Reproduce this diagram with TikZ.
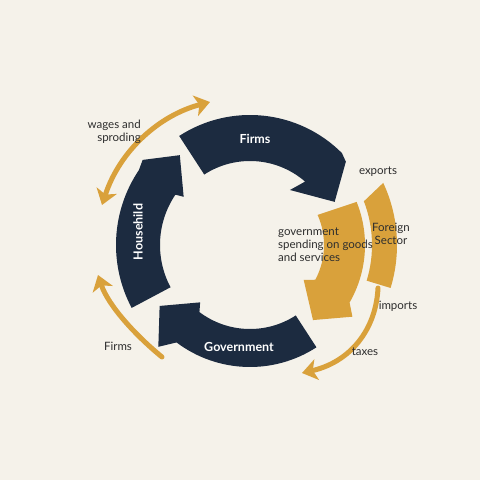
\documentclass[tikz,border=0pt]{standalone}
\usepackage{fontspec}
\setmainfont{Lato}
\usetikzlibrary{arrows.meta}
\definecolor{bg}{HTML}{F5F2EA}
\definecolor{navy}{HTML}{1C2B40}
\definecolor{gold}{HTML}{D9A13B}
\definecolor{ink}{HTML}{2E2E2E}
\begin{document}
\begin{tikzpicture}[x=1pt,y=1pt,
  lbl/.style={text=ink,font=\fontsize{11.5}{13}\selectfont,inner sep=0pt},
  wlbl/.style={text=white,font=\bfseries\fontsize{12.5}{14}\selectfont,inner sep=0pt},
  goldarrow/.style={draw=gold,line width=5pt,-{Stealth[length=15pt,width=21pt,inset=4pt]}},
  goldboth/.style={draw=gold,line width=5pt,{Stealth[length=15pt,width=21pt,inset=4pt]}-{Stealth[length=15pt,width=21pt,inset=4pt]}},
  band/.style={fill=navy},
  gband/.style={fill=gold}]
\fill[bg] (0,0) rectangle (480,480);
\useasboundingbox (0,0) rectangle (480,480);
\begin{scope}[shift={(250,235)}]
  % Household
  \fill[band] (208:134) arc[start angle=208,end angle=146,radius=134] -- (141.6:137) -- (128:114) -- (144:82) -- (146:90) arc[start angle=146,end angle=208,radius=90] -- cycle;
  % Firms
  \fill[band] (123:130) arc[start angle=123,end angle=45,radius=130] -- (41:127) -- (27:95) -- (54:68) -- (49:84) arc[start angle=49,end angle=123,radius=84] -- cycle;
  % Government
  \fill[band] (303:122) arc[start angle=303,end angle=233,radius=122] -- (228:137) -- (214:109) -- (229:76) -- (233:84) arc[start angle=233,end angle=303,radius=84] -- cycle;
  % government spending arrow
  \fill[gband] (22:115) arc[start angle=22,end angle=-30,radius=115] -- (-35:125) -- (-50:98) -- (-33:64) -- (-28:74) arc[start angle=-28,end angle=24,radius=74] -- cycle;
  % Foreign sector band
  \fill[gband] (21:122) -- (25:147) arc[start angle=25,end angle=-17,radius=147] -- (-17:122) arc[start angle=-17,end angle=21,radius=122] -- cycle;
\end{scope}
% orange connectors
\coordinate (w1) at (102,275);
\coordinate (w2) at (210,378);
\draw[goldboth] (w1) .. controls (120,330) and (160,365) .. (w2);
\coordinate (f1) at (162,123);
\coordinate (f2) at (98,205);
\draw[goldarrow,line cap=round] (f1) .. controls (135,145) and (108,175) .. (f2);
\coordinate (t1) at (378,192);
\coordinate (t2) at (302,107);
\draw[goldarrow,line cap=round] (t1) .. controls (376,150) and (350,118) .. (t2);
% labels
\node[lbl,align=right,anchor=east] (wages) at (141,348) {wages and\\sproding};
\node[wlbl] (firmsT) at (255,341) {Firms};
\node[lbl] (exports) at (378,308) {exports};
\node[lbl,align=left,anchor=west] (gsp) at (278,235) {government\\spending on goods\\and services};
\node[lbl,align=center] (foreign) at (391,246) {Foreign\\Sector};
\node[lbl] (imports) at (398,174) {imports};
\node[lbl] (taxes) at (365,128) {taxes};
\node[lbl] (firmsL) at (118,134) {Firms};
\node[wlbl] (gov) at (239,133) {Government};
\node[wlbl,rotate=90] (house) at (138,248) {Househild};
\end{tikzpicture}
\end{document}
